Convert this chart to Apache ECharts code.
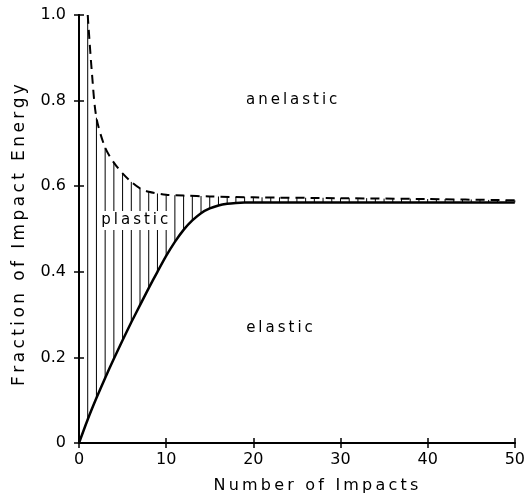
<!DOCTYPE html>
<html>
<head>
<meta charset="utf-8">
<script src="https://cdn.jsdelivr.net/npm/echarts@6/dist/echarts.min.js"></script>
<style>
  html, body { margin: 0; padding: 0; background: #fff; }
  #chart { width: 528px; height: 499px; }
</style>
</head>
<body>
<div id="chart"></div>
<script>
// impacts for the curves
const impacts = [0, 1, 2, 3, 4, 5, 6, 7, 8, 9, 10, 11, 12, 13, 14, 15, 16, 17, 18, 19, 20, 25, 30, 35, 40, 45, 50]
// elastic fraction (solid line)
const elastic = [0, 0.055, 0.105, 0.152, 0.197, 0.24, 0.282, 0.322, 0.362, 0.40, 0.437, 0.47, 0.498, 0.52, 0.537, 0.548, 0.555, 0.559, 0.561, 0.562, 0.562, 0.562, 0.562, 0.562, 0.562, 0.562, 0.562]

// elastic + plastic fraction (dashed line)
const anelX = [1, 1.5, 2, 3, 4, 5, 6, 7, 8, 10, 12, 15, 20, 30, 40, 50]
const anelY = [1.0, 0.86, 0.76, 0.69, 0.655, 0.63, 0.61, 0.595, 0.587, 0.58, 0.578, 0.576, 0.574, 0.572, 0.57, 0.567]

// vertical hatch lines, one per impact
const hatchX = [1, 2, 3, 4, 5, 6, 7, 8, 9, 10, 11, 12, 13, 14, 15, 16, 17, 18, 19, 20, 21, 22, 23, 24, 25, 26, 27, 28, 29, 30, 31, 32, 33, 34, 35, 36, 37, 38, 39, 40, 41, 42, 43, 44, 45, 46, 47, 48, 49, 50]
const hatchLow = [0.055, 0.105, 0.152, 0.197, 0.24, 0.282, 0.322, 0.362, 0.40, 0.437, 0.47, 0.498, 0.52, 0.537, 0.548, 0.555, 0.559, 0.561, 0.562, 0.562, 0.562, 0.562, 0.562, 0.562, 0.562, 0.562, 0.562, 0.562, 0.562, 0.562, 0.562, 0.562, 0.562, 0.562, 0.562, 0.562, 0.562, 0.562, 0.562, 0.562, 0.562, 0.562, 0.562, 0.562, 0.562, 0.562, 0.562, 0.562, 0.562, 0.562]
const hatchHigh = [1.0, 0.76, 0.69, 0.655, 0.63, 0.61, 0.595, 0.587, 0.583, 0.58, 0.579, 0.578, 0.577, 0.577, 0.576, 0.576, 0.575, 0.575, 0.575, 0.574, 0.574, 0.574, 0.574, 0.574, 0.573, 0.573, 0.573, 0.573, 0.572, 0.572, 0.572, 0.572, 0.572, 0.571, 0.571, 0.571, 0.571, 0.571, 0.57, 0.57, 0.57, 0.57, 0.569, 0.569, 0.569, 0.569, 0.568, 0.568, 0.568, 0.567]

// region labels
const regionNames = ['anelastic', 'plastic', 'elastic']
const regionX = [24.4, 6.4, 23.0]
const regionY = [0.80, 0.52, 0.269]

const font = 'DejaVu Sans'
// the lettering of the original is widely spaced
const spaced = (s, sp) => s.split('').join(sp)

const chart = echarts.init(document.getElementById('chart'))

const axisBase = {
  axisLine: { lineStyle: { color: '#000', width: 2 } },
  axisTick: { inside: true, length: 5, lineStyle: { color: '#000', width: 1.5 } },
  splitLine: { show: false }
}

chart.setOption({
  animation: false,
  grid: { left: 79, right: 13, top: 15, bottom: 56 },
  xAxis: [
    Object.assign({
      type: 'value', min: 0, max: 50, interval: 10,
      name: spaced('Number of Impacts', '\u2009'), nameLocation: 'middle', nameGap: 35,
      nameTextStyle: { fontFamily: font, fontSize: 16, color: '#000', padding: [0, 0, 0, 38] },
      axisLabel: { fontFamily: font, fontSize: 16, color: '#000', margin: 9 }
    }, axisBase),
    Object.assign({
      type: 'value', min: 0, max: 50, interval: 10, position: 'top',
      axisLabel: { show: false }
    }, axisBase)
  ],
  yAxis: [
    Object.assign({
      type: 'value', min: 0, max: 1, interval: 0.2,
      name: spaced('Fraction of Impact Energy', '\u2009'), nameLocation: 'middle', nameGap: 51,
      nameTextStyle: { fontFamily: font, fontSize: 17, color: '#000', padding: [0, 12, 0, 0] },
      axisLabel: {
        fontFamily: font, fontSize: 16, color: '#000', margin: 13,
        formatter: v => (v === 0 ? '0' : v.toFixed(1))
      }
    }, axisBase),
    Object.assign({
      type: 'value', min: 0, max: 1, interval: 0.2, position: 'right',
      axisLabel: { show: false }
    }, axisBase)
  ],
  series: [
    {
      // hatching between the two curves
      type: 'custom',
      data: hatchX.map((x, i) => [x, hatchLow[i], hatchHigh[i]]),
      renderItem: (params, api) => {
        const p1 = api.coord([api.value(0), api.value(1)])
        const p2 = api.coord([api.value(0), api.value(2)])
        return {
          type: 'line',
          shape: { x1: p1[0], y1: p1[1], x2: p2[0], y2: p2[1] },
          style: { stroke: '#000', lineWidth: 1 }
        }
      },
      z: 1
    },
    {
      name: 'elastic',
      type: 'line',
      data: impacts.map((x, i) => [x, elastic[i]]),
      smooth: 0.2,
      symbol: 'none',
      lineStyle: { color: '#000', width: 2.5 },
      z: 3
    },
    {
      name: 'anelastic',
      type: 'line',
      data: anelX.map((x, i) => [x, anelY[i]]),
      smooth: 0.3,
      symbol: 'none',
      lineStyle: { color: '#000', width: 2, type: [9, 6] },
      z: 3
    },
    {
      type: 'scatter',
      data: regionNames.map((n, i) => ({ name: n, value: [regionX[i], regionY[i]] })),
      symbolSize: 0,
      itemStyle: { opacity: 1 },
      label: {
        show: true, position: 'inside',
        formatter: p => spaced(p.name, '\u2009'),
        fontFamily: font, fontSize: 15, color: '#000',
        backgroundColor: '#fff', padding: [2, 3]
      },
      z: 5
    }
  ]
})
</script>
</body>
</html>
